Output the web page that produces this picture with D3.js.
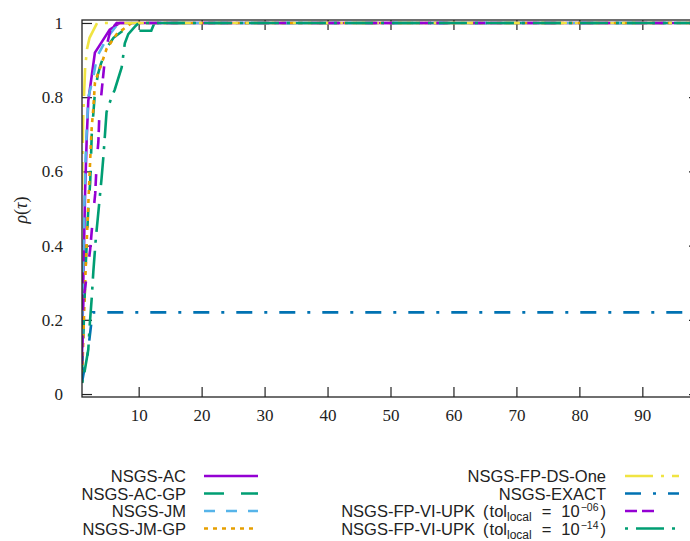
<!DOCTYPE html>
<html><head><meta charset="utf-8">
<script src="https://cdn.jsdelivr.net/npm/d3@7"></script>
<style>body{margin:0;background:#fff;}svg{display:block;}</style>
</head><body>
<svg id="chart" width="690" height="541"></svg>
<script>
// ---- data (tau, rho) pairs ----
const seriesNames = ["NSGS-AC","NSGS-AC-GP","NSGS-JM","NSGS-JM-GP","NSGS-FP-DS-One","NSGS-EXACT","NSGS-FP-VI-UPK","NSGS-FP-VI-UPK"];
const tolExponents = ["−06","−14"];
const dataAC = [[1,0.1],[1.2,0.3],[1.5,0.55],[1.75,0.69],[2,0.79],[3.05,0.92],[4,0.945],[5.4,0.982],[7,1],[99,1]];
const dataACGP = [[1,0.05],[1.3,0.2],[1.6,0.35],[2,0.5],[2.3,0.57],[2.55,0.7],[3,0.8],[3.5,0.86],[4,0.89],[5,0.935],[6,0.96],[7.5,0.979],[12,0.979],[12.5,1],[99,1]];
const dataJM = [[1,0.15],[1.3,0.45],[1.6,0.65],[2,0.8],[2.75,0.85],[3.4,0.91],[5,0.96],[6.8,1],[99,1]];
const dataJMGP = [[1,0.03],[1.3,0.2],[1.5,0.3],[1.75,0.41],[2,0.51],[2.4,0.67],[2.55,0.72],[2.8,0.77],[3.06,0.84],[4.1,0.89],[4.9,0.93],[5.7,0.95],[6.5,0.97],[7.3,0.98],[8.9,1],[99,1]];
const dataDSOne = [[1,0.55],[1.2,0.75],[1.5,0.88],[1.8,0.93],[2.2,0.96],[3.4,1],[99,1]];
const dataEXACT = [[1,0.03],[1.5,0.08],[1.85,0.1],[2.4,0.18],[2.7,0.22],[99,0.22]];
const dataVI06 = [[1,0.08],[1.2,0.25],[2,0.35],[2.3,0.39],[2.8,0.49],[3.1,0.54],[3.35,0.63],[3.6,0.68],[3.75,0.75],[4.2,0.83],[4.8,0.93],[5.5,0.98],[6.5,1],[99,1]];
const dataVI14 = [[1,0.03],[1.3,0.05],[2,0.12],[2.2,0.18],[2.55,0.26],[2.8,0.33],[3.2,0.42],[3.6,0.49],[4.1,0.58],[4.4,0.64],[4.65,0.7],[4.9,0.76],[5.7,0.8],[6.2,0.82],[7.3,0.88],[7.8,0.945],[8.35,0.97],[9.4,0.99],[10,1],[99,1]];
const xTicks = [10,20,30,40,50,60,70,80,90];
const yTicks = [0,0.2,0.4,0.6,0.8,1];

// ---- styles ----
const colors = ["#9400d3","#009e73","#56b4e9","#e69f00","#f0e442","#0072b2","#9400d3","#009e73"];
const dashes = ["none","20,17","11,11","4,5","28,8,3,8","16,12,3,12","12,5,12,25","3,8,28,8"];
const allData = [dataAC,dataACGP,dataJM,dataJMGP,dataDSOne,dataEXACT,dataVI06,dataVI14];

const svg = d3.select("#chart");
const L = 82, R = 699, T = 20, B = 397;
const x = d3.scaleLinear().domain([1,99]).range([L,R]);
const y = d3.scaleLinear().domain([-0.008,1.008]).range([B,T]);

svg.append("defs").append("clipPath").attr("id","clip")
  .append("rect").attr("x",L).attr("y",T).attr("width",R-L).attr("height",B-T);

const serif = "'Liberation Serif','DejaVu Serif',serif";
const sans = "'Liberation Sans','DejaVu Sans',sans-serif";

// axes
const gx = svg.append("g").attr("transform",`translate(0,${B})`)
  .call(d3.axisBottom(x).tickValues(xTicks).tickSize(-10).tickPadding(12).tickFormat(d3.format("d")));
const gxTop = svg.append("g").attr("transform",`translate(0,${T})`)
  .call(d3.axisTop(x).tickValues(xTicks).tickSize(-10).tickFormat(""));
const gy = svg.append("g").attr("transform",`translate(${L},0)`)
  .call(d3.axisLeft(y).tickValues(yTicks).tickSize(-10).tickPadding(19).tickFormat(d=>d===0||d===1?d3.format("d")(d):d3.format(".1f")(d)));
const gyR = svg.append("g").attr("transform",`translate(${R},0)`)
  .call(d3.axisRight(y).tickValues(yTicks).tickSize(-10).tickFormat(""));
[gx,gxTop,gy,gyR].forEach(g=>{
  g.select(".domain").remove();
  g.selectAll(".tick line").attr("stroke","#222").attr("stroke-width",1.2);
  g.selectAll(".tick text").attr("fill","#222").style("font-family",serif).style("font-size","17px");
});

// curves
const line = d3.line().x(d=>x(d[0])).y(d=>y(d[1]));
const curves = svg.append("g").attr("clip-path","url(#clip)");
allData.forEach((d,i)=>{
  curves.append("path").datum(d).attr("d",line)
    .attr("fill","none").attr("stroke",colors[i]).attr("stroke-width",2.6)
    .attr("stroke-dasharray",dashes[i]);
});

// frame
svg.append("rect").attr("x",L).attr("y",T).attr("width",R-L).attr("height",B-T)
  .attr("fill","none").attr("stroke","#222").attr("stroke-width",1.3);

// y label
svg.append("text").attr("transform","translate(27,210) rotate(-90)")
  .attr("text-anchor","middle").style("font-family",serif).style("font-size","18px")
  .attr("fill","#222")
  .html('<tspan font-style="italic">ρ</tspan>(<tspan font-style="italic">τ</tspan>)');

// legend
const leg = svg.append("g").style("font-family",sans).style("font-size","16.5px").attr("fill","#222");
const rowsY = [482,499.5,517,534.5];
function sample(i, x0, yb){
  leg.append("line").attr("x1",x0).attr("x2",x0+54).attr("y1",yb-6).attr("y2",yb-6)
    .attr("stroke",colors[i]).attr("stroke-width",2.6).attr("stroke-dasharray",dashes[i]);
}
for(let i=0;i<4;i++){
  leg.append("text").attr("x",186).attr("y",rowsY[i]).attr("text-anchor","end").text(seriesNames[i]);
  sample(i,204,rowsY[i]);
}
function tolLabel(name, ex){
  return name + '<tspan dx="8">(</tspan><tspan dx="1">tol</tspan>' +
    '<tspan font-size="12px" dy="4">local</tspan>' +
    '<tspan dy="-4" dx="10">=</tspan><tspan dx="10">10</tspan>' +
    '<tspan font-size="10.5px" dy="-6" dx="1">' + ex + '</tspan>' +
    '<tspan dy="6" dx="2">)</tspan>';
}
const rightLabels = [
  seriesNames[4],
  seriesNames[5],
  tolLabel(seriesNames[6], tolExponents[0]),
  tolLabel(seriesNames[7], tolExponents[1])
];
for(let i=0;i<4;i++){
  leg.append("text").attr("x",606).attr("y",rowsY[i]).attr("text-anchor","end").html(rightLabels[i]);
  sample(i+4,625,rowsY[i]);
}
</script>
</body></html>
